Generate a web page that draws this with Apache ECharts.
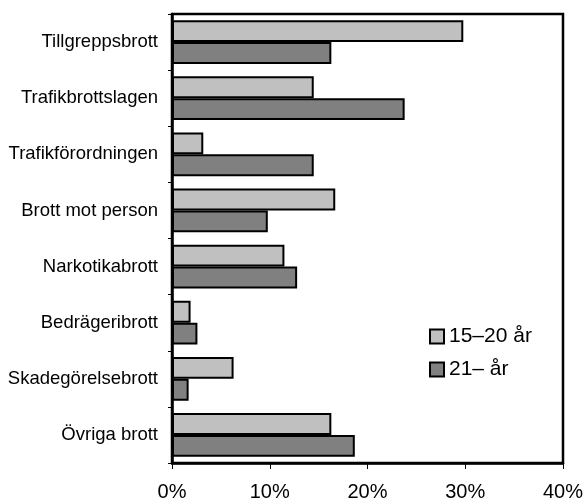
<!DOCTYPE html>
<html>
<head>
<meta charset="utf-8">
<script src="https://cdn.jsdelivr.net/npm/echarts@6/dist/echarts.min.js"></script>
<style>html,body{margin:0;padding:0;background:#fff}#c{width:587px;height:502px}</style>
</head>
<body>
<div id="c"></div>
<script>
const categories = ['Tillgreppsbrott','Trafikbrottslagen','Trafikförordningen','Brott mot person','Narkotikabrott','Bedrägeribrott','Skadegörelsebrott','Övriga brott'];
const seriesNames = ['15–20 år','21– år'];
const young = [29.8, 14.5, 3.2, 16.7, 11.5, 1.9, 6.3, 16.3];
const older = [16.3, 23.8, 14.5, 9.8, 12.8, 2.6, 1.7, 18.7];
const xTicks = [0, 10, 20, 30, 40];

const chart = echarts.init(document.getElementById('c'), null, {renderer:'canvas'});
const font = 'Liberation Sans, Arial, sans-serif';
chart.setOption({
  animation: false,
  backgroundColor: '#fff',
  grid: {left: 172, right: 24, top: 14, bottom: 39, show: true, borderColor: '#000', borderWidth: 2.5, containLabel: false},
  legend: {
    orient: 'vertical', left: 424, top: 321, icon: 'rect',
    itemWidth: 14, itemHeight: 14, itemGap: 12,
    textStyle: {fontFamily: font, fontSize: 21, color: '#000'},
    data: seriesNames
  },
  xAxis: {
    type: 'value', min: xTicks[0], max: xTicks[xTicks.length-1], interval: 10,
    axisLine: {show: true, lineStyle: {color: '#000', width: 2.5}},
    axisTick: {show: true, length: 6, lineStyle: {color: '#000', width: 1}},
    splitLine: {show: false},
    axisLabel: {fontFamily: font, fontSize: 20, color: '#000', margin: 19, formatter: v => v + '%'}
  },
  yAxis: {
    type: 'category', data: categories, inverse: true,
    axisLine: {show: true, lineStyle: {color: '#000', width: 2.5}},
    axisTick: {show: true, length: 4, lineStyle: {color: '#000', width: 1}},
    axisLabel: {fontFamily: font, fontSize: 18.5, color: '#000', margin: 14}
  },
  series: [
    {name: seriesNames[0], type: 'bar', data: young, barGap: '0%', barCategoryGap: '22%',
     itemStyle: {color: '#C0C0C0', borderColor: '#000', borderWidth: 2}},
    {name: seriesNames[1], type: 'bar', data: older, barGap: '0%', barCategoryGap: '22%',
     itemStyle: {color: '#808080', borderColor: '#000', borderWidth: 2}}
  ]
});
</script>
</body>
</html>
